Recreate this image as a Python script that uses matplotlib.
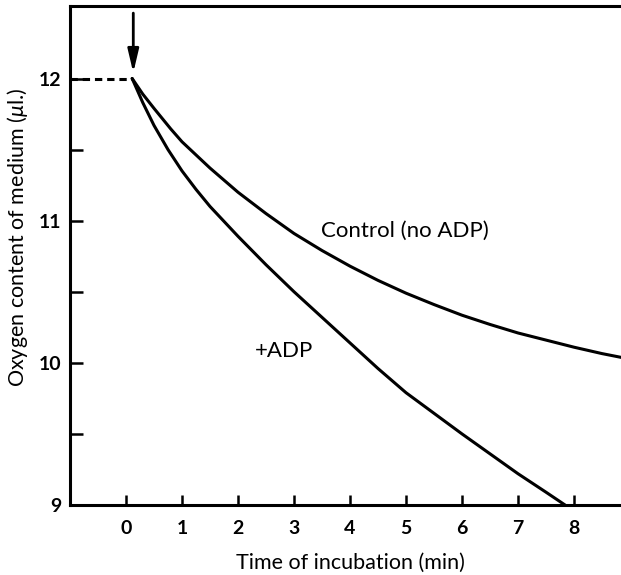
import matplotlib
matplotlib.use('Agg')
import matplotlib.pyplot as plt

plt.rcParams['font.family'] = ['Lato', 'DejaVu Sans']
plt.rcParams['mathtext.fontset'] = 'custom'
plt.rcParams['mathtext.it'] = 'Lato:italic'

# values (time in min, oxygen in ul)
control_t = [0.11, 0.3, 0.5, 0.8, 1.0, 1.5, 2.0, 2.5, 3.0, 3.5, 4.0, 4.5,
             5.0, 5.5, 6.0, 6.5, 7.0, 7.5, 8.0, 8.5, 8.95]
control_o2 = [12.0, 11.89, 11.79, 11.645, 11.555, 11.37, 11.20, 11.05, 10.91, 10.79, 10.68, 10.58,
              10.49, 10.41, 10.335, 10.27, 10.21, 10.16, 10.11, 10.065, 10.03]

adp_t = [0.11, 0.3, 0.5, 0.75, 1.0, 1.25, 1.5, 2.0, 2.5, 3.0, 3.5, 4.0,
         4.5, 5.0, 5.5, 6.0, 6.5, 7.0, 7.5, 7.84]
adp_o2 = [12.0, 11.83, 11.67, 11.50, 11.35, 11.22, 11.10, 10.89, 10.69, 10.50, 10.32, 10.14,
          9.96, 9.79, 9.645, 9.50, 9.36, 9.22, 9.09, 9.0]

start_t = [-1.0, 0.11]
start_o2 = [12.0, 12.0]
arrow_t = 0.13
arrow_from, arrow_to = 12.46, 12.04

x_ticks = [0, 1, 2, 3, 4, 5, 6, 7, 8]
y_ticks = [9, 10, 11, 12]
y_minor = [9.5, 10.5, 11.5]

fig = plt.figure(figsize=(6.21, 5.75), dpi=100)
ax = fig.add_axes([70/621, 1-505/575, 1-70/621+0.01, 499/575])

ax.plot(control_t, control_o2, color='black', lw=2.2, solid_capstyle='round')
ax.plot(adp_t, adp_o2, color='black', lw=2.2, solid_capstyle='round')
ax.plot(start_t, start_o2, color='black', lw=2.2, linestyle=(0, (2.4, 1.6)), clip_on=False)

ax.annotate('', xy=(arrow_t, arrow_to), xytext=(arrow_t, arrow_from),
            arrowprops=dict(arrowstyle='-|>,head_length=1.4,head_width=0.33',
                            lw=2, color='black', shrinkA=0, shrinkB=0,
                            mutation_scale=10))

ax.text(3.48, 10.93, 'Control (no ADP)', fontsize=16, va='center', ha='left')
ax.text(2.31, 10.08, '+ADP', fontsize=16, va='center', ha='left')

ax.set_xlim(-1.0, 8.95)
ax.set_ylim(9, 12.51)

ax.set_xticks(x_ticks)
ax.set_xticklabels([str(v) for v in x_ticks], fontweight='bold')
ax.set_yticks(y_ticks)
ax.set_yticklabels([str(v) for v in y_ticks], fontweight='bold')
ax.set_yticks(y_minor, minor=True)

ax.tick_params(axis='x', direction='in', length=7, width=1.8, labelsize=14, pad=11)
ax.tick_params(axis='y', which='both', direction='in', length=9, width=1.8, labelsize=14, pad=6)

for s in ['left', 'bottom', 'top']:
    ax.spines[s].set_linewidth(2.2)
ax.spines['right'].set_visible(False)

ax.set_xlabel('Time of incubation (min)', fontsize=15.5, va='center')
ax.set_ylabel('Oxygen content of medium ($\\mu$l.)', fontsize=15.5, va='center')
ax.xaxis.set_label_coords(0.503, -0.116)
ax.yaxis.set_label_coords(-0.094, 0.537)

fig.savefig('out.png', dpi=100)
